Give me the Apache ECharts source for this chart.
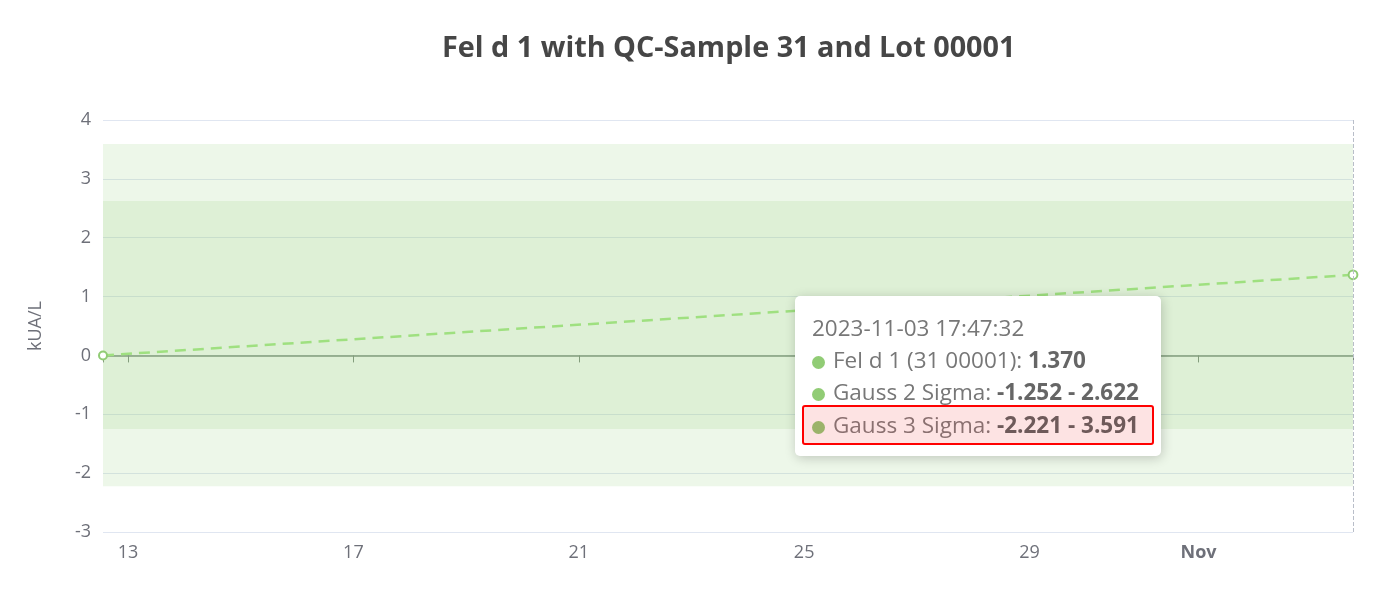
<!DOCTYPE html>
<html>
<head>
<meta charset="utf-8">
<script src="https://cdn.jsdelivr.net/npm/echarts@6/dist/echarts.min.js"></script>
<style>
html,body{margin:0;padding:0;background:#fff;}
#main{width:1386px;height:591px;}
</style>
</head>
<body>
<div id="main"></div>
<script>
// ---- data ----
const chartTitle = 'Fel d 1 with QC-Sample 31 and Lot 00001';
const seriesName = 'Fel d 1 (31 00001)';
const yAxisName = 'kUA/L';
const times = ['2023-10-12 13:20:00', '2023-11-03 17:47:32'];
const values = [0.0, 1.370];
const gauss2 = [-1.252, 2.622];
const gauss3 = [-2.221, 3.591];
const yTicks = [-3, -2, -1, 0, 1, 2, 3, 4];

const FONT = '"Open Sans", "Noto Sans", sans-serif';
const GREEN = '#91cc75';
const tMin = echarts.time.parse(times[0]).getTime();
const tMax = echarts.time.parse(times[times.length - 1]).getTime();
const lineData = times.map((t, i) => [t, values[i]]);

function marker(color) {
  return '<span style="display:inline-block;width:13px;height:13px;border-radius:7px;background:' + color + ';margin-right:8px;vertical-align:-1px;"></span>';
}

const chart = echarts.init(document.getElementById('main'), null, { renderer: 'canvas' });
chart.setOption({
  animation: false,
  title: {
    text: chartTitle,
    left: 437,
    top: 29,
    textStyle: { fontFamily: FONT, fontSize: 28.8, fontWeight: 'bold', color: '#464646' }
  },
  grid: { left: 103, right: 33, top: 120, bottom: 59, containLabel: false },
  tooltip: {
    trigger: 'axis',
    triggerOn: 'none',
    alwaysShowContent: true,
    position: [795, 296],
    padding: [16, 7, 11, 7],
    backgroundColor: '#fff',
    borderWidth: 0,
    extraCssText: 'border-radius:5px;box-shadow:1px 2px 12px rgba(0,0,0,0.2);',
    axisPointer: { type: 'line', lineStyle: { color: '#B9BEC9', type: 'dashed', width: 1 } },
    formatter: function (params) {
      const p = params[0];
      const idx = p.dataIndex;
      const head = echarts.time.format(p.value[0], '{yyyy}-{MM}-{dd} {HH}:{mm}:{ss}', false);
      const row = 'line-height:32px;padding:0 10px;white-space:nowrap;';
      const b = 'font-weight:bold;color:#666;';
      let html = '<div style="font-family:' + FONT.replace(/"/g, "'") + ';font-size:22.5px;color:#777;">';
      html += '<div style="' + row + 'color:#777;">' + head + '</div>';
      html += '<div style="' + row + '">' + marker(GREEN) + seriesName + ': <span style="' + b + '">' + values[idx].toFixed(3) + '</span></div>';
      html += '<div style="' + row + '">' + marker(GREEN) + 'Gauss 2 Sigma: <span style="' + b + '">' + gauss2[0].toFixed(3) + ' - ' + gauss2[1].toFixed(3) + '</span></div>';
      html += '<div style="margin-top:-3px;line-height:36px;padding:0 13px 0 8px;white-space:nowrap;border:2px solid #f00;border-radius:3px;background:#fde3e3;color:#8a7070;">' + marker('#9bb36a') + 'Gauss 3 Sigma: <span style="font-weight:bold;color:#6e5a5a;">' + gauss3[0].toFixed(3) + ' - ' + gauss3[1].toFixed(3) + '</span></div>';
      html += '</div>';
      return html;
    }
  },
  xAxis: [
    {
      type: 'time',
      min: tMin,
      max: tMax,
      position: 'bottom',
      axisLine: { show: false, onZero: false },
      axisTick: { show: false },
      splitLine: { show: false },
      axisLabel: { fontFamily: FONT, fontSize: 18, color: '#6E7079', margin: 12 }
    },
    {
      type: 'time',
      min: tMin,
      max: tMax,
      position: 'bottom',
      axisLine: { show: true, onZero: true, lineStyle: { color: '#7f8a80', width: 1.5 } },
      axisTick: { show: true, length: 7, lineStyle: { color: '#7f8a80' } },
      axisLabel: { show: false },
      splitLine: { show: false },
      axisPointer: { show: false }
    }
  ],
  yAxis: {
    type: 'value',
    min: yTicks[0],
    max: yTicks[yTicks.length - 1],
    interval: 1,
    name: yAxisName,
    nameLocation: 'middle',
    nameGap: 58,
    nameTextStyle: { fontFamily: FONT, fontSize: 18, color: '#6E7079' },
    axisLabel: { fontFamily: FONT, fontSize: 18, color: '#6E7079', margin: 12 },
    splitLine: { lineStyle: { color: '#E0E6F1', width: 1.2 } }
  },
  series: [
    {
      name: 'Gauss 3 Sigma',
      type: 'line',
      xAxisIndex: 0,
      data: [],
      silent: true,
      markArea: {
        silent: true,
        itemStyle: { color: 'rgba(145,204,117,0.16)' },
        data: [[{ yAxis: gauss3[0] }, { yAxis: gauss3[1] }]]
      }
    },
    {
      name: 'Gauss 2 Sigma',
      type: 'line',
      xAxisIndex: 0,
      data: [],
      silent: true,
      markArea: {
        silent: true,
        itemStyle: { color: 'rgba(145,204,117,0.16)' },
        data: [[{ yAxis: gauss2[0] }, { yAxis: gauss2[1] }]]
      }
    },
    {
      name: seriesName,
      type: 'line',
      xAxisIndex: 0,
      data: lineData,
      symbol: 'emptyCircle',
      symbolSize: 8,
      showSymbol: true,
      itemStyle: { color: GREEN, borderWidth: 2 },
      lineStyle: { color: GREEN, width: 2.5, type: [11, 7] },
      z: 5
    }
  ]
});
chart.dispatchAction({ type: 'showTip', seriesIndex: 2, dataIndex: 1 });
</script>
</body>
</html>
